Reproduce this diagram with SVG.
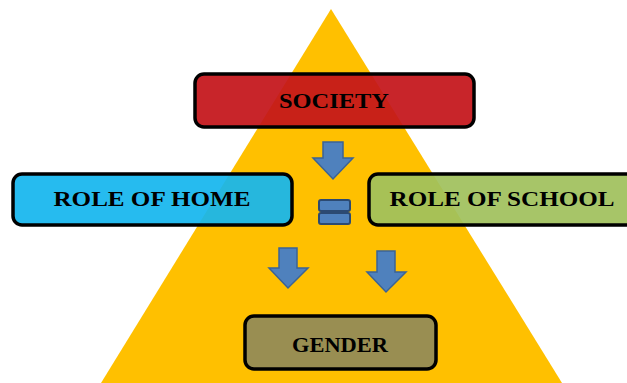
<svg xmlns="http://www.w3.org/2000/svg" width="627" height="383" viewBox="0 0 627 383">
<defs>
<style>
.box{stroke:#000;stroke-width:3.5;fill-opacity:0.93}
.solid{fill-opacity:1}
.lbl{font-family:"Liberation Serif","Times New Roman",serif;font-weight:bold;font-size:20px;fill:#000;text-anchor:middle}
.arr{fill:#4f81bd;stroke:#3b6396;stroke-width:1.5}
.eq{fill:#4f81bd;stroke:#2c4a72;stroke-width:2}
</style>
</defs>
<rect width="627" height="383" fill="#fff"/>
<polygon id="pyramid" points="331,9 101,383 562,383" fill="#ffc000"/>
<g id="society">
<rect class="box" x="195" y="74" width="279" height="53" rx="9" fill="#c4141a"/>
<text class="lbl" x="334" y="108" textLength="110" lengthAdjust="spacingAndGlyphs">SOCIETY</text>
</g>
<g id="home">
<rect class="box" x="13" y="174" width="279" height="51" rx="9" fill="#16b6ee"/>
<text class="lbl" x="152" y="206" textLength="197" lengthAdjust="spacingAndGlyphs">ROLE OF HOME</text>
</g>
<g id="school">
<rect class="box" x="369" y="174" width="275" height="51" rx="9" fill="#a0c15c"/>
<text class="lbl" x="502" y="206" textLength="225" lengthAdjust="spacingAndGlyphs">ROLE OF SCHOOL</text>
</g>
<g id="gender">
<rect class="box solid" x="245" y="316" width="191" height="53" rx="9" fill="#998e52"/>
<text class="lbl" x="340" y="352" textLength="96" lengthAdjust="spacingAndGlyphs">GENDER</text>
</g>
<g id="connectors">
<polygon class="arr" points="323,142 343,142 343,158 353,158 333,179 313,158 323,158"/>
<rect class="eq" x="319" y="200" width="31" height="11" rx="2"/>
<rect class="eq" x="319" y="213" width="31" height="11" rx="2"/>
<polygon class="arr" points="279,248 297,248 297,268 308,268 288,288 269,268 279,268"/>
<polygon class="arr" points="377,251 395,251 395,272 406,272 386,292 367,272 377,272"/>
</g>
</svg>
